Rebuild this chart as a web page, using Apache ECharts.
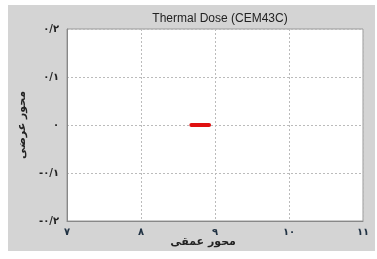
<!DOCTYPE html>
<html>
<head>
<meta charset="utf-8">
<script src="https://cdn.jsdelivr.net/npm/echarts@6/dist/echarts.min.js"></script>
<style>
    html, body { margin: 0; padding: 0; background: #ffffff; }
    #main {
        position: absolute;
        left: 8px;
        top: 5px;
        width: 367px;
        height: 246px;
        background: #d4d4d4;
    }
</style>
</head>
<body>
<div id="main"></div>
<script>
// axis ticks (Persian digits, as in the figure)
var xTicks = [7, 8, 9, 10, 11]
var xTickLabels = { 7: '۷', 8: '۸', 9: '۹', 10: '۱۰', 11: '۱۱' }
var yTicks = [-0.2, -0.1, 0, 0.1, 0.2]
var yTickLabels = { '-0.2': '-۰/۲', '-0.1': '-۰/۱', '0': '۰', '0.1': '۰/۱', '0.2': '۰/۲' }

// thermal dose region (depth, lateral)
var doseX = [8.68, 8.8, 8.92]
var doseY = [0, 0, 0]

var fontFam = 'DejaVu Sans'

var chart = echarts.init(document.getElementById('main'))
chart.setOption({
    animation: false,
    title: {
        text: 'Thermal Dose (CEM43C)',
        left: 207,
        textAlign: 'center',
        top: 3,
        textStyle: {
            fontFamily: 'Liberation Sans',
            fontSize: 12,
            fontWeight: 'normal',
            color: '#222'
        }
    },
    grid: {
        left: 59,
        top: 24,
        right: 12,
        bottom: 30,
        outerBoundsMode: 'none',
        show: true,
        backgroundColor: '#ffffff',
        borderColor: '#999',
        borderWidth: 1
    },
    xAxis: {
        type: 'value',
        min: 7,
        max: 11,
        interval: 1,
        name: 'محور عمقی',
        nameLocation: 'middle',
        nameGap: 16,
        nameMoveOverlap: false,
        nameTextStyle: {
            fontFamily: fontFam,
            fontSize: 11,
            fontWeight: 'bold',
            color: '#222',
            padding: [0, 24, 0, 0]
        },
        axisLine: { show: true, onZero: false, lineStyle: { color: '#888' } },
        axisTick: { show: false },
        splitLine: { show: true, lineStyle: { color: '#bbb', type: [2, 2] } },
        axisLabel: {
            fontFamily: fontFam,
            fontSize: 10,
            fontWeight: 'bold',
            color: '#234',
            margin: 6,
            formatter: function (v) { return xTickLabels[v] || '' }
        }
    },
    yAxis: {
        type: 'value',
        min: -0.2,
        max: 0.2,
        interval: 0.1,
        name: 'محور عرضی',
        nameLocation: 'middle',
        nameGap: 39,
        nameRotate: 90,
        nameMoveOverlap: false,
        nameTextStyle: {
            fontFamily: fontFam,
            fontSize: 11,
            fontWeight: 'bold',
            color: '#222'
        },
        axisLine: { show: true, onZero: false, lineStyle: { color: '#888' } },
        axisTick: { show: false },
        splitLine: { show: true, lineStyle: { color: '#bbb', type: [2, 2] } },
        axisLabel: {
            fontFamily: fontFam,
            fontSize: 10,
            fontWeight: 'bold',
            color: '#222',
            margin: 8,
            formatter: function (v) { return yTickLabels[String(Math.round(v * 10) / 10)] || '' }
        }
    },
    series: [
        {
            type: 'line',
            data: doseX.map(function (x, i) { return [x, doseY[i]] }),
            showSymbol: false,
            lineStyle: { color: '#e01010', width: 4, cap: 'round' }
        }
    ]
})
</script>
</body>
</html>
